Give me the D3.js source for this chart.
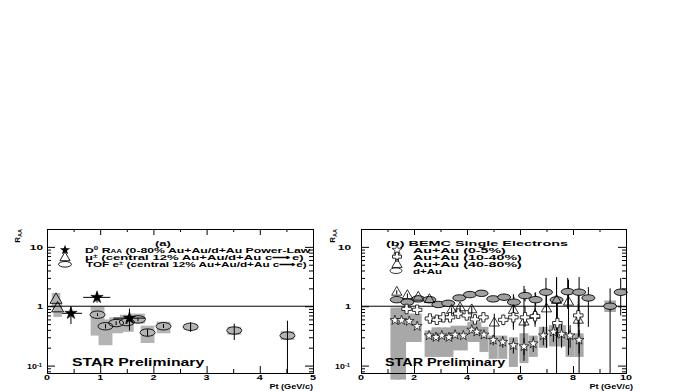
<!DOCTYPE html>
<html>
<head>
<meta charset="utf-8">
<script src="https://cdn.jsdelivr.net/npm/d3@7"></script>
<style>body{margin:0;background:#fff}</style>
</head>
<body>
<div id="chart"></div>
<script>
// ---------- panel (a) ----------
const d0Pt = [0.45, 0.94, 1.55];
const d0R = [0.76, 1.41, 0.63];
const d0Lo = [0.50, 1.15, 0.39];
const d0Hi = [1.00, 1.70, 0.91];
const d0PtLo = [0.28, 0.68, 1.25];
const d0PtHi = [0.66, 1.19, 1.85];

const muPt = [0.17, 0.20];
const muR = [1.28, 0.92];
const muSysLo = [1.00, 0.66];
const muSysHi = [1.68, 1.10];

const tofPt = [0.95, 1.10, 1.30, 1.50, 1.71, 1.89, 2.19, 2.70, 3.52, 4.52];
const tofR = [0.72, 0.46, 0.52, 0.54, 0.60, 0.36, 0.46, 0.45, 0.39, 0.32];
const tofLo = [0.68, 0.42, 0.48, 0.50, 0.56, 0.31, 0.43, 0.37, 0.27, 0.075];
const tofHi = [0.76, 0.50, 0.56, 0.58, 0.64, 0.41, 0.50, 0.54, 0.51, 0.57];
const tofSysLo = [0.32, 0.22, 0.35, 0.37, 0.51, 0.24, 0.35, 0.40, 0.33, 0.27];
const tofSysHi = [1.00, 0.60, 0.65, 0.72, 0.75, 0.47, 0.55, 0.50, 0.45, 0.38];

// ---------- panel (b) ----------
const dauPt = [1.35, 1.75, 2.16, 2.58, 2.92, 3.29, 3.71, 4.11, 4.55, 4.99, 5.40, 5.77, 6.19, 6.59, 6.98, 7.38, 7.80, 8.23, 8.58, 9.40, 9.80];
const dauR = [1.29, 1.17, 1.33, 1.29, 1.07, 1.12, 1.38, 1.57, 1.65, 1.33, 1.42, 1.17, 1.51, 1.29, 1.72, 1.28, 1.76, 1.72, 1.38, 1.00, 1.72];
const dauLo = [1.22, 1.11, 1.26, 1.22, 1.01, 1.05, 1.30, 1.48, 1.55, 1.22, 1.25, 0.95, 1.20, 1.00, 0.95, 0.60, 0.90, 0.075, 0.45, 0.075, 0.70];
const dauHi = [1.36, 1.23, 1.40, 1.36, 1.13, 1.19, 1.46, 1.66, 1.75, 1.44, 1.62, 1.45, 1.95, 1.70, 3.00, 3.10, 3.00, 3.10, 2.10, 2.00, 3.00];
const dauSysPt = [9.40];
const dauSysLo = [0.80];
const dauSysHi = [1.25];

const c05Pt = [1.28, 1.53, 1.82, 2.12, 2.57, 2.83, 3.05, 3.32, 3.55, 3.86, 4.18, 4.37, 4.64, 4.99, 5.35, 5.75, 6.15, 6.50, 6.88, 7.26, 7.57, 7.89, 8.23];
const c05R = [0.58, 0.58, 0.56, 0.46, 0.32, 0.30, 0.32, 0.30, 0.33, 0.32, 0.40, 0.37, 0.33, 0.27, 0.25, 0.22, 0.21, 0.235, 0.32, 0.37, 0.34, 0.32, 0.27];
const c05Lo = [0.54, 0.54, 0.52, 0.42, 0.29, 0.27, 0.29, 0.27, 0.30, 0.29, 0.36, 0.33, 0.29, 0.22, 0.20, 0.16, 0.15, 0.17, 0.22, 0.25, 0.20, 0.20, 0.16];
const c05Hi = [0.62, 0.62, 0.60, 0.50, 0.35, 0.33, 0.35, 0.33, 0.36, 0.35, 0.44, 0.41, 0.37, 0.32, 0.31, 0.29, 0.29, 0.31, 0.45, 0.52, 0.50, 0.48, 0.40];
const c05SysLo = [0.058, 0.058, 0.25, 0.25, 0.14, 0.14, 0.14, 0.14, 0.18, 0.18, 0.25, 0.25, 0.17, 0.13, 0.13, 0.095, 0.11, 0.14, 0.20, 0.21, 0.21, 0.14, 0.14];
const c05SysHi = [0.95, 0.95, 0.75, 0.75, 0.39, 0.44, 0.44, 0.44, 0.47, 0.47, 0.54, 0.54, 0.45, 0.32, 0.32, 0.30, 0.35, 0.32, 0.45, 0.48, 0.48, 0.35, 0.35];

const c1040Pt = [1.72, 2.12, 2.60, 2.86, 3.11, 3.36, 3.67, 3.99, 4.30, 4.62, 5.37, 5.75, 6.19, 6.57, 7.41, 8.20];
const c1040R = [0.90, 0.87, 0.62, 0.59, 0.65, 0.65, 0.75, 0.70, 0.60, 0.65, 0.59, 0.65, 0.65, 0.68, 0.52, 0.70];
const c1040Lo = [0.84, 0.81, 0.57, 0.54, 0.59, 0.59, 0.66, 0.61, 0.52, 0.55, 0.48, 0.45, 0.45, 0.50, 0.30, 0.45];
const c1040Hi = [0.96, 0.93, 0.67, 0.64, 0.71, 0.71, 0.84, 0.79, 0.68, 0.75, 0.72, 0.95, 1.00, 0.95, 1.20, 1.10];

const c4080Pt = [1.35, 1.75, 2.16, 2.58, 3.42, 3.74, 4.18, 5.03, 5.75, 6.15, 6.57, 7.00, 7.38, 7.83, 8.20];
const c4080R = [1.72, 1.51, 1.42, 1.29, 0.85, 0.94, 0.87, 0.52, 0.85, 0.54, 0.70, 0.90, 1.25, 1.17, 0.58];
const c4080Lo = [1.58, 1.38, 1.29, 1.17, 0.75, 0.82, 0.74, 0.30, 0.40, 0.12, 0.45, 0.20, 0.075, 0.15, 0.30];
const c4080Hi = [1.86, 1.64, 1.55, 1.41, 0.95, 1.06, 1.00, 0.75, 1.60, 2.20, 1.70, 2.00, 3.00, 2.80, 1.50];

// axis ticks
const yMajor = [0.1, 1, 10];
const yMinor = [0.08, 0.09, 0.2, 0.3, 0.4, 0.5, 0.6, 0.7, 0.8, 0.9, 2, 3, 4, 5, 6, 7, 8, 9];
const xaMajor = [0, 1, 2, 3, 4, 5];
const xaMinor = [0.5, 1.5, 2.5, 3.5, 4.5];
const xbMajor = [0, 2, 4, 6, 8, 10];
const xbMinor = [1, 3, 5, 7, 9];

const grey = '#a8a8a8';

const svg = d3.select('#chart').append('svg')
  .attr('width', 690).attr('height', 391)
  .style('font-family', '"Liberation Sans", Arial, sans-serif')
  .style('font-weight', 'bold');

const y = d3.scaleLog().domain([0.075, 20]).range([373, 229]);
const xa = d3.scaleLinear().domain([0, 5]).range([47, 313]);
const xb = d3.scaleLinear().domain([0, 10]).range([361, 626]);

// text squeezed/stretched to the width it has in the picture
function addText(g, x, yy, parts, size, target, anchor) {
  const t = g.append('text').attr('font-size', size).attr('text-anchor', anchor || 'start');
  parts.forEach(p => {
    const s = t.append('tspan').text(p.t);
    if (p.sh) s.attr('baseline-shift', p.sh === 'sub' ? -1 : 2).attr('font-size', size * 0.65);
  });
  let sx = 1;
  if (target) sx = target / t.node().getBBox().width;
  t.attr('transform', `translate(${x},${yy}) scale(${sx},1)`);
  return t;
}

function drawFrame(x, majors, minors) {
  const g = svg.append('g');
  const [x0, x1] = x.range();
  const [yb, yt] = y.range();
  g.append('g').attr('transform', `translate(${x0},0)`)
    .call(d3.axisLeft(y).tickValues(majors.y).tickSizeInner(-8).tickSizeOuter(0).tickFormat(''));
  g.append('g').attr('transform', `translate(${x0},0)`)
    .call(d3.axisLeft(y).tickValues(minors.y).tickSizeInner(-4).tickSizeOuter(0).tickFormat(''));
  g.append('g').attr('transform', `translate(${x1},0)`)
    .call(d3.axisRight(y).tickValues(majors.y).tickSizeInner(-8).tickSizeOuter(0).tickFormat(''));
  g.append('g').attr('transform', `translate(${x1},0)`)
    .call(d3.axisRight(y).tickValues(minors.y).tickSizeInner(-4).tickSizeOuter(0).tickFormat(''));
  g.append('g').attr('transform', `translate(0,${yb})`)
    .call(d3.axisBottom(x).tickValues(majors.x).tickSizeInner(-7).tickSizeOuter(0).tickFormat(''));
  g.append('g').attr('transform', `translate(0,${yb})`)
    .call(d3.axisBottom(x).tickValues(minors.x).tickSizeInner(-4).tickSizeOuter(0).tickFormat(''));
  g.append('g').attr('transform', `translate(0,${yt})`)
    .call(d3.axisTop(x).tickValues(majors.x).tickSizeInner(-6).tickSizeOuter(0).tickFormat(''));
  g.append('g').attr('transform', `translate(0,${yt})`)
    .call(d3.axisTop(x).tickValues(minors.x).tickSizeInner(-3).tickSizeOuter(0).tickFormat(''));
  g.selectAll('path,line').attr('stroke', '#000').attr('stroke-width', 1);
  return g;
}

function sysBoxes(g, x, pts, lo, hi, half, color) {
  g.selectAll(null).data(pts).enter().append('rect')
    .attr('x', d => x(d - half)).attr('width', d => x(d + half) - x(d - half))
    .attr('y', (d, i) => y(hi[i])).attr('height', (d, i) => y(lo[i]) - y(hi[i]))
    .attr('fill', color);
}

function errBars(g, x, pts, lo, hi) {
  g.selectAll(null).data(pts).enter().append('line')
    .attr('x1', d => x(d)).attr('x2', d => x(d))
    .attr('y1', (d, i) => y(hi[i])).attr('y2', (d, i) => y(lo[i]))
    .attr('stroke', '#000').attr('stroke-width', 1);
}

function symbols(g, x, pts, vals, type, size, fill, sw) {
  g.selectAll(null).data(pts).enter().append('path')
    .attr('transform', (d, i) => `translate(${x(d)},${y(vals[i])})`)
    .attr('d', d3.symbol().type(type).size(size)())
    .attr('fill', fill).attr('stroke', '#000').attr('stroke-width', sw || 0.8);
}

function ellipses(g, x, pts, vals, rx, ry, fill) {
  g.selectAll(null).data(pts).enter().append('ellipse')
    .attr('cx', d => x(d)).attr('cy', (d, i) => y(vals[i]))
    .attr('rx', rx).attr('ry', ry)
    .attr('fill', fill).attr('stroke', '#000').attr('stroke-width', 0.9);
}

function unitLine(g, x) {
  g.append('line').attr('x1', x.range()[0]).attr('x2', x.range()[1])
    .attr('y1', y(1)).attr('y2', y(1)).attr('stroke', '#000').attr('stroke-width', 1);
}

// ---------- panel (a) drawing ----------
const ga = svg.append('g');
sysBoxes(ga, xa, muPt, muSysLo, muSysHi, 0.08, '#b4b4b4');
sysBoxes(ga, xa, tofPt, tofSysLo, tofSysHi, 0.13, '#b4b4b4');
unitLine(ga, xa);
errBars(ga, xa, tofPt, tofLo, tofHi);
errBars(ga, xa, d0Pt, d0Lo, d0Hi);
ga.selectAll(null).data(d0Pt).enter().append('line')
  .attr('x1', (d, i) => xa(d0PtLo[i])).attr('x2', (d, i) => xa(d0PtHi[i]))
  .attr('y1', (d, i) => y(d0R[i])).attr('y2', (d, i) => y(d0R[i]))
  .attr('stroke', '#000').attr('stroke-width', 1);
ellipses(ga, xa, tofPt, tofR, 7.5, 3.7, 'none');
symbols(ga, xa, muPt, muR, d3.symbolTriangle, 62, 'none', 0.9);
symbols(ga, xa, d0Pt, d0R, d3.symbolStar, 48, '#000', 0.5);

drawFrame(xa, {x: xaMajor, y: yMajor}, {x: xaMinor, y: yMinor});

// ---------- panel (b) drawing ----------
const gb = svg.append('g');
sysBoxes(gb, xb, c05Pt, c05SysLo, c05SysHi, 0.17, grey);
sysBoxes(gb, xb, dauSysPt, dauSysLo, dauSysHi, 0.22, grey);
unitLine(gb, xb);
errBars(gb, xb, dauPt, dauLo, dauHi);
errBars(gb, xb, c05Pt, c05Lo, c05Hi);
errBars(gb, xb, c1040Pt, c1040Lo, c1040Hi);
errBars(gb, xb, c4080Pt, c4080Lo, c4080Hi);
ellipses(gb, xb, dauPt, dauR, 6.5, 3.2, '#a0a0a0');
symbols(gb, xb, c4080Pt, c4080R, d3.symbolTriangle, 45, 'none', 0.8);
symbols(gb, xb, c1040Pt, c1040R, d3.symbolCross, 50, '#fff', 0.8);
symbols(gb, xb, c05Pt, c05R, d3.symbolStar, 30, '#fff', 0.7);

drawFrame(xb, {x: xbMajor, y: yMajor}, {x: xbMinor, y: yMinor});

// ---------- tick labels ----------
const lab = svg.append('g');
[[xa, xaMajor], [xb, xbMajor]].forEach(([x, ticks]) => {
  ticks.forEach(t => addText(lab, x(t), 380, [{t: String(t)}], 8, null, 'middle')
    .attr('transform', `translate(${x(t)},380) scale(1.35,1)`));
});
[43, 351].forEach(xr => {
  addText(lab, xr, 250, [{t: '10'}], 8, 14, 'end');
  addText(lab, xr, 309, [{t: '1'}], 8, null, 'end').attr('transform', `translate(${xr},309) scale(1.35,1)`);
  addText(lab, xr - 1, 368.5, [{t: '10'}, {t: '-1', sh: 'super'}], 8, 15, 'end');
});

// axis titles
[[20, 313], [335, 633]].forEach(([xt, xr]) => {
  const t = svg.append('text').attr('font-size', 8).attr('text-anchor', 'end')
    .attr('transform', `translate(${xt},229) rotate(-90)`);
  t.append('tspan').text('R');
  t.append('tspan').text('AA').attr('baseline-shift', -1.5).attr('font-size', 5.5);
  addText(svg, xr, 389, [{t: 'Pt (GeV/c)'}], 8, 44, 'end');
});

// STAR Preliminary
addText(svg, 72, 365.5, [{t: 'STAR Preliminary'}], 10, 133);
addText(svg, 385, 365.5, [{t: 'STAR Preliminary'}], 10, 121);

// ---------- legends ----------
const fs = 7.2;
const la = svg.append('g');
addText(la, 155, 246, [{t: '(a)'}], fs, 17);
addText(la, 85, 252.6, [{t: 'D'}, {t: '0', sh: 'super'}, {t: ' R'}, {t: 'AA', sh: 'sub'}, {t: ' (0-80% Au+Au/d+Au Power-Law'}], fs, 226);
addText(la, 85, 260.2, [{t: 'μ'}, {t: '±', sh: 'super'}, {t: ' (central 12% Au+Au/d+Au c'}, {t: '⟶'}, {t: 'e)'}], fs, 218);
addText(la, 86, 267.2, [{t: 'TOF e'}, {t: '±', sh: 'super'}, {t: ' (central 12% Au+Au/d+Au c'}, {t: '⟶'}, {t: 'e)'}], fs, 221);
la.append('path').attr('transform', 'translate(65,250)').attr('d', d3.symbol().type(d3.symbolStar).size(32)()).attr('fill', '#000');
la.append('path').attr('transform', 'translate(65,257.8)').attr('d', d3.symbol().type(d3.symbolTriangle).size(45)())
  .attr('fill', 'none').attr('stroke', '#000').attr('stroke-width', 0.9);
la.append('ellipse').attr('cx', 65).attr('cy', 264.3).attr('rx', 6.5).attr('ry', 2.8)
  .attr('fill', 'none').attr('stroke', '#000').attr('stroke-width', 0.9);

const lb = svg.append('g');
addText(lb, 386, 246, [{t: '(b) BEMC Single Electrons'}], fs, 182);
addText(lb, 413, 252.8, [{t: 'Au+Au (0-5%)'}], fs, 94);
addText(lb, 413, 259.6, [{t: 'Au+Au (10-40%)'}], fs, 110);
addText(lb, 413, 266.5, [{t: 'Au+Au (40-80%)'}], fs, 110);
addText(lb, 413, 273.5, [{t: 'd+Au'}], fs, 29);
lb.append('path').attr('transform', 'translate(397,250)').attr('d', d3.symbol().type(d3.symbolStar).size(32)())
  .attr('fill', '#fff').attr('stroke', '#000').attr('stroke-width', 0.7);
lb.append('path').attr('transform', 'translate(397,256.7)').attr('d', d3.symbol().type(d3.symbolCross).size(45)())
  .attr('fill', '#fff').attr('stroke', '#000').attr('stroke-width', 0.8);
lb.append('path').attr('transform', 'translate(397,264.5)').attr('d', d3.symbol().type(d3.symbolTriangle).size(45)())
  .attr('fill', 'none').attr('stroke', '#000').attr('stroke-width', 0.8);
lb.append('ellipse').attr('cx', 396).attr('cy', 270.7).attr('rx', 6).attr('ry', 2.8)
  .attr('fill', 'none').attr('stroke', '#000').attr('stroke-width', 0.8);
</script>
</body>
</html>
